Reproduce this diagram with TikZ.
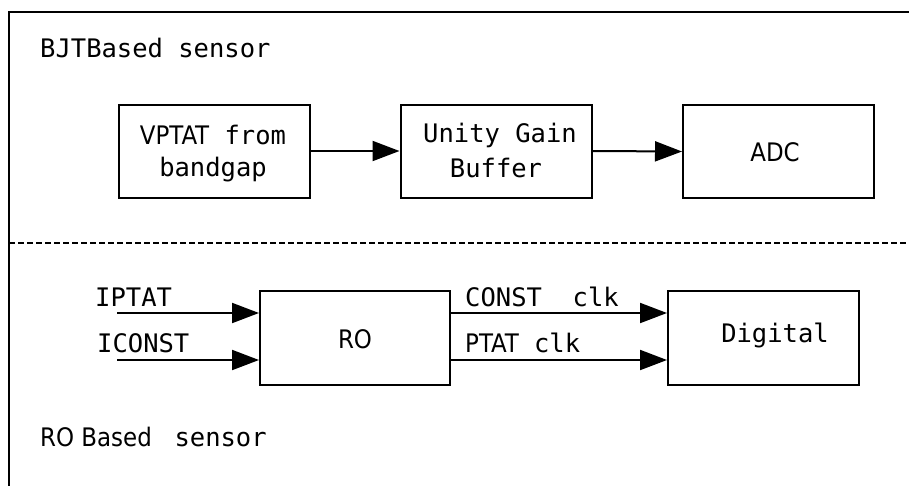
\documentclass[tikz,border=0pt]{standalone}
\usepackage{fontspec}
\setmainfont{DejaVu Sans Mono}
\newfontfamily\cond{DejaVu Sans Condensed}
\usetikzlibrary{arrows.meta}
\tikzset{
  blk/.style={draw, line width=2pt, minimum width=191pt, minimum height=93pt, inner sep=0pt},
  lbl/.style={inner sep=0pt, font=\fontsize{25.5}{36}\selectfont},
  arr/.style={line width=2pt, -{Triangle[length=27pt,width=20pt]}},
}
\begin{document}
\begin{tikzpicture}[x=1pt,y=-1pt]
\useasboundingbox (0,0) rectangle (909,485);
\fill[white] (0,0) rectangle (909,485);
\draw[line width=1.6pt] (909,12) -- (9,12) -- (9,486);
\draw[line width=1.4pt, dash pattern=on 6pt off 3pt] (9,243) -- (909,243);
\node[lbl, anchor=west] (t1) at (40,48) {BJTBased sensor};
\node[blk] (vp) at (214,151) {};
\node[blk] (ub) at (496,151) {};
\node[blk] (adc) at (778.5,151.5) {};
\node[lbl] (vpt) at (213,135) {{\cond VPTAT} from};
\node[lbl] (vpb) at (213,170) {bandgap};
\node[lbl] (ubt) at (500,135) {Unity Gain};
\node[lbl] (ubb) at (496,168) {Buffer};
\node[lbl] (adct) at (775,152) {\cond ADC};
\draw[arr] (vp.east) -- (ub.west);
\draw[arr] (ub.east) -- (adc.west);
\node[blk, minimum width=190pt, minimum height=94pt] (ro) at (355,338) {};
\node[blk, minimum width=191pt, minimum height=94pt] (dig) at (763.5,338) {};
\node[lbl] (rot) at (355,339) {\cond RO};
\node[lbl] (digt) at (775,335) {Digital};
\coordinate (i1) at (117,313);
\coordinate (i2) at (117,360);
\draw[arr] (i1) -- (ro.west |- i1);
\draw[arr] (i2) -- (ro.west |- i2);
\draw[arr] (ro.east |- i1) -- (dig.west |- i1);
\draw[arr] (ro.east |- i2) -- (dig.west |- i2);
\node[lbl, anchor=west] (ip) at (95,297) {IPTAT};
\node[lbl, anchor=west] (ic) at (97,343) {ICONST};
\node[lbl, anchor=west] (cc) at (465,297) {CONST\ \ clk};
\node[lbl, anchor=west] (pc) at (465,343) {{\cond PTAT} clk};
\node[lbl, anchor=west] (t2) at (40,437) {{\cond RO Based\ }\ sensor};
\end{tikzpicture}
\end{document}
